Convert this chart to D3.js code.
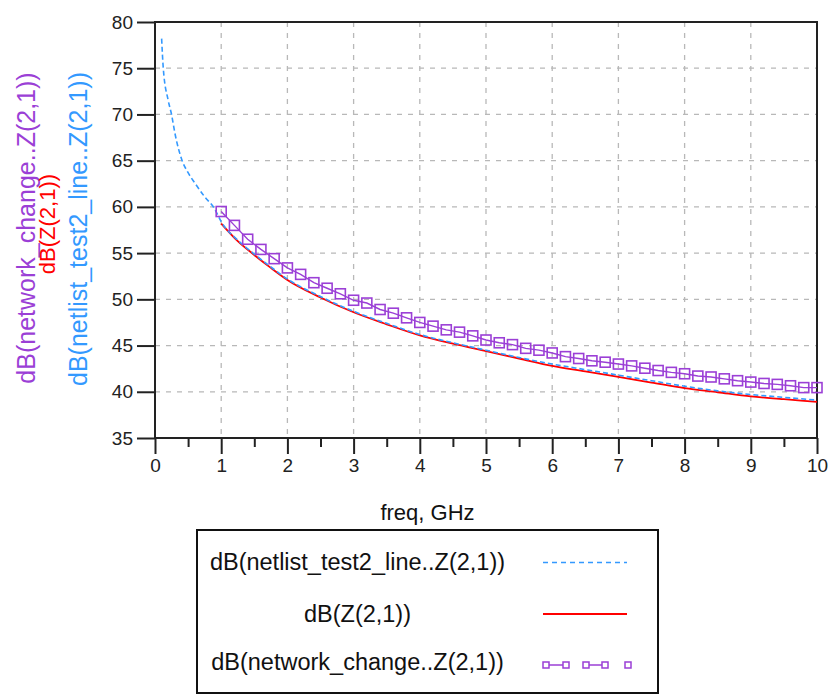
<!DOCTYPE html>
<html>
<head>
<meta charset="utf-8">
<script src="https://cdn.jsdelivr.net/npm/d3@7"></script>
<style>
  body { margin: 0; background: #fff; }
  svg { font-family: "Liberation Sans", Arial, sans-serif; }
</style>
</head>
<body>
<svg id="chart" width="830" height="695"></svg>
<script>
// freq axis (GHz) and dB values
const blueFreq = [0.1, 0.125, 0.2, 0.25, 0.3, 0.4, 0.5, 0.6, 0.75, 0.9, 1.0, 1.25, 1.5, 1.75, 2.0, 2.5, 3.0, 3.5, 4.0, 4.5, 5.0, 5.5, 6.0, 6.5, 7.0, 7.5, 8.0, 8.5, 9.0, 9.5, 10];
const blueDb = [78.2, 75.0, 71.5, 70.0, 68.0, 65.2, 63.7, 62.6, 61.1, 59.8, 58.4, 56.4, 54.9, 53.5, 52.2, 50.3, 48.7, 47.4, 46.2, 45.3, 44.5, 43.7, 43.0, 42.4, 41.8, 41.2, 40.6, 40.1, 39.7, 39.4, 39.1];

const redFreq = [1.0, 1.25, 1.5, 1.75, 2.0, 2.5, 3.0, 3.5, 4.0, 4.5, 5.0, 5.5, 6.0, 6.5, 7.0, 7.5, 8.0, 8.5, 9.0, 9.5, 10];
const redDb = [58.2, 56.3, 54.8, 53.4, 52.1, 50.2, 48.6, 47.3, 46.1, 45.2, 44.4, 43.6, 42.8, 42.2, 41.6, 41.0, 40.4, 39.95, 39.5, 39.2, 38.9];

const purpleFreq = [1.0, 1.2, 1.4, 1.6, 1.8, 2.0, 2.2, 2.4, 2.6, 2.8, 3.0, 3.2, 3.4, 3.6, 3.8, 4.0, 4.2, 4.4, 4.6, 4.8, 5.0, 5.2, 5.4, 5.6, 5.8, 6.0, 6.2, 6.4, 6.6, 6.8, 7.0, 7.2, 7.4, 7.6, 7.8, 8.0, 8.2, 8.4, 8.6, 8.8, 9.0, 9.2, 9.4, 9.6, 9.8, 10];
const purpleDb = [59.5, 58.0, 56.5, 55.4, 54.4, 53.4, 52.7, 51.8, 51.2, 50.6, 49.9, 49.6, 48.9, 48.5, 48.0, 47.5, 47.1, 46.7, 46.45, 46.05, 45.6, 45.3, 45.1, 44.7, 44.5, 44.2, 43.8, 43.6, 43.35, 43.2, 43.0, 42.8, 42.55, 42.3, 42.1, 41.95, 41.7, 41.6, 41.4, 41.2, 41.05, 40.9, 40.8, 40.65, 40.45, 40.45];

const xTicks = [0, 1, 2, 3, 4, 5, 6, 7, 8, 9, 10];
const xMinorTicks = [0.5, 1.5, 2.5, 3.5, 4.5, 5.5, 6.5, 7.5, 8.5, 9.5];
const yTicks = [35, 40, 45, 50, 55, 60, 65, 70, 75, 80];

const series = [
    { name: "dB(netlist_test2_line..Z(2,1))", color: "#3399ff", freq: blueFreq, db: blueDb },
    { name: "dB(Z(2,1))", color: "#ff0000", freq: redFreq, db: redDb },
    { name: "dB(network_change..Z(2,1))", color: "#9b3fd6", freq: purpleFreq, db: purpleDb }
];

const svg = d3.select("#chart");
const x = d3.scaleLinear().domain([0, 10]).range([155, 817]);
const y = d3.scaleLinear().domain([35, 80]).range([438, 22]);

// dashed grid
svg.append("g")
    .selectAll("line")
    .data(xTicks.slice(1, -1))
    .join("line")
    .attr("x1", d => x(d)).attr("x2", d => x(d))
    .attr("y1", y(80)).attr("y2", y(35))
    .attr("stroke", "#b8b8b8").attr("stroke-width", 1.3)
    .attr("stroke-dasharray", "5,6");

svg.append("g")
    .selectAll("line")
    .data(yTicks.slice(1, -1))
    .join("line")
    .attr("x1", x(0)).attr("x2", x(10))
    .attr("y1", d => y(d)).attr("y2", d => y(d))
    .attr("stroke", "#b8b8b8").attr("stroke-width", 1.3)
    .attr("stroke-dasharray", "5,6");

// axes
const yAxis = svg.append("g")
    .attr("transform", `translate(${x(0)},0)`)
    .call(d3.axisLeft(y).tickValues(yTicks).tickSize(18).tickPadding(4));

const xAxis = svg.append("g")
    .attr("transform", `translate(0,${y(35)})`)
    .call(d3.axisBottom(x).tickValues(xTicks).tickSize(16).tickPadding(5));

svg.append("g")
    .attr("transform", `translate(0,${y(35)})`)
    .call(d3.axisBottom(x).tickValues(xMinorTicks).tickSize(9).tickFormat(""))
    .call(g => g.select(".domain").remove());

[yAxis, xAxis].forEach(g => {
    g.select(".domain").remove();
    g.selectAll(".tick text")
        .attr("fill", "#222")
        .style("font-size", "19px")
        .style("font-family", "'Liberation Sans', Arial, sans-serif");
});
svg.selectAll(".tick line").attr("stroke", "#222").attr("stroke-width", 2);

// frame
svg.append("rect")
    .attr("x", x(0)).attr("y", y(80))
    .attr("width", x(10) - x(0)).attr("height", y(35) - y(80))
    .attr("fill", "none").attr("stroke", "#222").attr("stroke-width", 2);

// curves
const smooth = d3.line().curve(d3.curveMonotoneX).x(d => x(d[0])).y(d => y(d[1]));
const plot = svg.append("g");

plot.append("path")
    .datum(d3.zip(purpleFreq, purpleDb))
    .attr("fill", "none").attr("stroke", series[2].color).attr("stroke-width", 1.4)
    .attr("d", d3.line().x(d => x(d[0])).y(d => y(d[1])));

plot.append("path")
    .datum(d3.zip(redFreq, redDb))
    .attr("fill", "none").attr("stroke", series[1].color).attr("stroke-width", 1.8)
    .attr("d", smooth);

plot.append("path")
    .datum(d3.zip(blueFreq, blueDb))
    .attr("fill", "none").attr("stroke", series[0].color).attr("stroke-width", 1.6)
    .attr("stroke-dasharray", "5,3")
    .attr("d", smooth);

plot.append("g")
    .selectAll("rect")
    .data(d3.zip(purpleFreq, purpleDb))
    .join("rect")
    .attr("x", d => x(d[0]) - 5).attr("y", d => y(d[1]) - 5)
    .attr("width", 10).attr("height", 10)
    .attr("fill", "none").attr("stroke", series[2].color).attr("stroke-width", 1.6);

// rotated y labels
const yLabels = [
    { s: series[2], bx: 35, cy: 228, fs: 25 },
    { s: series[1], bx: 55, cy: 224, fs: 22 },
    { s: series[0], bx: 87, cy: 229, fs: 25 }
];
svg.append("g")
    .selectAll("text")
    .data(yLabels)
    .join("text")
    .attr("transform", d => `translate(${d.bx},${d.cy}) rotate(-90)`)
    .attr("text-anchor", "middle")
    .attr("fill", d => d.s.color)
    .style("font-size", d => d.fs + "px")
    .text(d => d.s.name);

// x label
svg.append("text")
    .attr("x", 427.5).attr("y", 520)
    .attr("text-anchor", "middle")
    .attr("fill", "#111")
    .style("font-size", "22px")
    .text("freq, GHz");

// legend
const legend = svg.append("g");
legend.append("rect")
    .attr("x", 197).attr("y", 530)
    .attr("width", 461).attr("height", 163)
    .attr("fill", "none").attr("stroke", "#111").attr("stroke-width", 2);

const rows = [570, 621.5, 670];
legend.selectAll("text")
    .data(series)
    .join("text")
    .attr("x", 357.5).attr("y", (d, i) => rows[i])
    .attr("text-anchor", "middle")
    .attr("fill", "#111")
    .style("font-size", "23.5px")
    .text(d => d.name);

legend.append("line")
    .attr("x1", 543).attr("x2", 627).attr("y1", rows[0] - 7.5).attr("y2", rows[0] - 7.5)
    .attr("stroke", series[0].color).attr("stroke-width", 1.6).attr("stroke-dasharray", "5,4");

legend.append("line")
    .attr("x1", 543).attr("x2", 627).attr("y1", rows[1] - 7.5).attr("y2", rows[1] - 7.5)
    .attr("stroke", series[1].color).attr("stroke-width", 2);

const my = rows[2] - 5;
const markX = [546, 566, 586, 605, 628];
legend.selectAll("line.seg")
    .data([[markX[0], markX[1]], [markX[2], markX[3]]])
    .join("line")
    .attr("class", "seg")
    .attr("x1", d => d[0]).attr("x2", d => d[1])
    .attr("y1", my).attr("y2", my)
    .attr("stroke", series[2].color).attr("stroke-width", 1.5);
legend.selectAll("rect.mk")
    .data(markX)
    .join("rect")
    .attr("class", "mk")
    .attr("x", d => d - 3).attr("y", my - 3)
    .attr("width", 6).attr("height", 6)
    .attr("fill", "#fff").attr("stroke", series[2].color).attr("stroke-width", 1.5);
</script>
</body>
</html>
